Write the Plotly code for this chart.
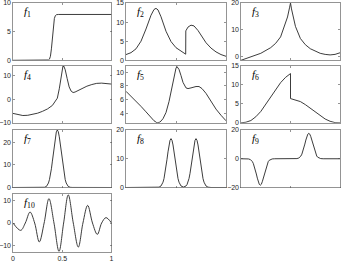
import plotly.graph_objects as go

# ---------------- data ----------------
f1_pts = [(0, 0), (0.34, 0), (0.36, 0.05), (0.37, 0.2), (0.38, 0.7), (0.39, 2.0), (0.40, 4.0),
          (0.41, 6.0), (0.42, 7.3), (0.43, 7.8), (0.44, 7.95), (0.46, 8.0), (1.0, 8.0)]
f2_pts = [(0, 1.5), (0.05, 2.0), (0.1, 3.0), (0.15, 5.0), (0.2, 8.2), (0.25, 11.8), (0.28, 13.3),
          (0.30, 13.6), (0.32, 13.2), (0.35, 11.4), (0.4, 7.6), (0.45, 4.9), (0.5, 3.3), (0.55, 2.3),
          (0.597, 1.6), (0.598, 7.7), (0.62, 8.7), (0.65, 9.2), (0.68, 9.0), (0.72, 7.8), (0.76, 6.1),
          (0.8, 4.6), (0.85, 3.2), (0.9, 2.2), (0.95, 1.5), (1.0, 1.05)]
f3_pts = [(0, -1.3), (0.1, 0.1), (0.2, 1.3), (0.3, 3.4), (0.35, 5.0), (0.4, 7.4), (0.45, 12.2),
          (0.47, 14.8), (0.49, 18.2), (0.5, 20.0), (0.51, 17.8), (0.53, 14.2), (0.55, 11.3), (0.6, 6.8),
          (0.65, 4.5), (0.7, 3.0), (0.75, 2.0), (0.8, 1.3), (0.85, 0.9), (0.9, 0.7), (0.95, 0.9), (1.0, 1.5)]
f4_pts = [(0, -6.0), (0.05, -6.6), (0.1, -6.9), (0.15, -6.8), (0.2, -6.4), (0.25, -5.9), (0.3, -5.1),
          (0.35, -4.1), (0.4, -2.6), (0.43, -1.0), (0.45, 0.5), (0.47, 4.5), (0.49, 10.0), (0.505, 13.6),
          (0.515, 14.2), (0.53, 12.6), (0.55, 8.8), (0.57, 5.3), (0.59, 3.5), (0.61, 2.9), (0.63, 3.1),
          (0.66, 3.8), (0.7, 4.7), (0.75, 5.6), (0.8, 6.3), (0.85, 6.8), (0.9, 6.9), (0.95, 6.8), (1.0, 6.5)]
f5_pts = [(0, 7.2), (0.05, 6.5), (0.1, 5.8), (0.15, 5.0), (0.2, 4.2), (0.25, 3.4), (0.28, 2.9),
          (0.31, 2.6), (0.34, 2.7), (0.37, 3.2), (0.4, 4.1), (0.43, 5.7), (0.46, 7.8), (0.48, 9.5),
          (0.5, 10.6), (0.51, 10.8), (0.53, 10.4), (0.55, 9.5), (0.57, 8.5), (0.6, 7.7), (0.62, 7.6),
          (0.65, 7.7), (0.7, 7.9), (0.73, 7.9), (0.76, 7.6), (0.8, 6.9), (0.85, 5.7), (0.9, 4.6),
          (0.95, 3.7), (1.0, 2.9)]
f6_pts = [(0, 0), (0.05, 0.15), (0.1, 0.6), (0.15, 1.6), (0.2, 3.0), (0.25, 4.9), (0.3, 6.9),
          (0.35, 8.9), (0.4, 10.6), (0.45, 12.0), (0.5, 13.0), (0.5001, 6.4), (0.55, 6.1), (0.6, 5.6),
          (0.65, 4.8), (0.7, 3.9), (0.75, 2.9), (0.8, 1.9), (0.85, 1.0), (0.9, 0.4), (0.95, 0.05), (1.0, 0)]
f7_pts = [(0, 0), (0.30, 0.02), (0.32, 0.1), (0.34, 0.5), (0.35, 1.1), (0.36, 2.0), (0.37, 3.5),
          (0.38, 5.5), (0.39, 8.3), (0.40, 11.7), (0.41, 15.5), (0.42, 19.3), (0.43, 22.5), (0.44, 24.7),
          (0.45, 25.5), (0.46, 24.7), (0.47, 22.5), (0.48, 19.3), (0.49, 15.5), (0.50, 11.7), (0.51, 8.3),
          (0.52, 5.5), (0.53, 3.5), (0.54, 2.0), (0.55, 1.1), (0.56, 0.5), (0.58, 0.1), (0.60, 0.02), (1.0, 0)]
f8_pts = [(0, 0), (0.30, 0), (0.33, 0.12), (0.35, 0.53), (0.36, 1.0), (0.37, 1.85), (0.38, 3.1),
          (0.39, 4.9), (0.40, 7.1), (0.41, 9.8), (0.42, 12.4), (0.43, 14.8), (0.44, 16.4), (0.45, 17.0),
          (0.46, 16.4), (0.47, 14.8), (0.48, 12.4), (0.49, 9.8), (0.50, 7.1), (0.51, 4.9), (0.52, 3.1),
          (0.53, 1.85), (0.54, 1.0), (0.55, 0.53), (0.575, 0.15), (0.60, 0.53), (0.61, 1.0), (0.62, 1.85),
          (0.63, 3.1), (0.64, 4.9), (0.65, 7.1), (0.66, 9.8), (0.67, 12.4), (0.68, 14.8), (0.69, 16.4),
          (0.70, 17.0), (0.71, 16.4), (0.72, 14.8), (0.73, 12.4), (0.74, 9.8), (0.75, 7.1), (0.76, 4.9),
          (0.77, 3.1), (0.78, 1.85), (0.79, 1.0), (0.80, 0.53), (0.82, 0.12), (0.85, 0), (1.0, 0)]
f9_pts = [(0, 0), (0.05, 0), (0.075, -0.13), (0.095, -0.57), (0.105, -1.1), (0.115, -2.0), (0.125, -3.4),
          (0.135, -5.3), (0.145, -7.7), (0.155, -10.6), (0.165, -13.5), (0.175, -16.0), (0.185, -17.8),
          (0.195, -18.4), (0.205, -17.8), (0.215, -16.0), (0.225, -13.5), (0.235, -10.6), (0.245, -7.7),
          (0.255, -5.3), (0.265, -3.4), (0.275, -2.0), (0.285, -1.1), (0.295, -0.57), (0.315, -0.13),
          (0.34, 0), (0.54, 0), (0.565, 0.12), (0.585, 0.55), (0.595, 1.06), (0.605, 1.9), (0.615, 3.2),
          (0.625, 5.1), (0.635, 7.4), (0.645, 10.2), (0.655, 13.0), (0.665, 15.4), (0.675, 17.1),
          (0.685, 17.7), (0.695, 17.1), (0.705, 15.4), (0.715, 13.0), (0.725, 10.2), (0.735, 7.4),
          (0.745, 5.1), (0.755, 3.2), (0.765, 1.9), (0.775, 1.06), (0.785, 0.55), (0.805, 0.12),
          (0.83, 0), (1.0, 0)]
f10_pts = [(0, 0), (0.078, -3.3), (0.125, 0), (0.173, 4.9), (0.22, 0), (0.267, -8.5), (0.316, 0),
           (0.365, 10.9), (0.416, 0), (0.467, -12.7), (0.514, 0), (0.561, 12.6), (0.612, 0),
           (0.663, -10.8), (0.71, 0), (0.758, 7.9), (0.807, 0), (0.856, -5.1), (0.9, 0), (0.944, 2.4),
           (1.0, 0)]

y_ranges = [[0, 10], [0, 15], [-1.3, 20], [-10, 14.2], [2.6, 10.9], [0, 15],
            [0, 25.5], [0, 20], [-20, 20], [-13, 13]]
y_ticks = [[0, 5, 10], [0, 5, 10, 15], [0, 10, 20], [-10, 0, 10], [4, 6, 8, 10], [0, 5, 10, 15],
           [0, 10, 20], [0, 10, 20], [-20, 0, 20], [-10, 0, 10]]
x_ticks = [0, 0.5, 1]
x_tick_text = ["0", "0.5", "1"]
all_pts = [f1_pts, f2_pts, f3_pts, f4_pts, f5_pts, f6_pts, f7_pts, f8_pts, f9_pts, f10_pts]
shapes = ["linear"] * 9 + ["spline"]

# ---------------- layout geometry (pixels) ----------------
W, H = 350, 263
col_px = [(13, 111.5), (126, 226), (241, 340)]
row_px = [(3, 60.3), (66, 122.8), (130, 187.5), (194, 252)]

LINE = "#262626"
FRAME = "#4d4d4d"
TICKF = dict(family="Liberation Sans, Arial", size=7, color="#262626")

fig = go.Figure()
annotations = []
for i, pts in enumerate(all_pts):
    n = i + 1
    r, c = divmod(i, 3)
    sfx = "" if n == 1 else str(n)
    xs = [p[0] for p in pts]
    ys = [p[1] for p in pts]
    fig.add_trace(go.Scatter(x=xs, y=ys, mode="lines", xaxis="x" + sfx, yaxis="y" + sfx,
                             line=dict(color=LINE, width=0.9, shape=shapes[i]),
                             showlegend=False, hoverinfo="skip"))
    x0, x1 = col_px[c]
    y0, y1 = row_px[r]
    fig.layout["xaxis" + sfx] = dict(
        domain=[x0 / W, x1 / W], anchor="y" + sfx, range=[0, 1], automargin=False,
        tickvals=x_ticks, ticktext=x_tick_text, showticklabels=(n == 10),
        ticks="inside", ticklen=2, tickwidth=0.6, tickcolor=FRAME, ticklabeloverflow="allow",
        showline=True, mirror="ticks", linecolor=FRAME, linewidth=0.6,
        showgrid=False, zeroline=False, tickfont=TICKF)
    fig.layout["yaxis" + sfx] = dict(
        domain=[1 - y1 / H, 1 - y0 / H], anchor="x" + sfx, range=y_ranges[i], automargin=False,
        tickvals=y_ticks[i], ticks="inside", ticklen=2, tickwidth=0.6, tickcolor=FRAME,
        ticklabeloverflow="allow",
        showline=True, mirror="ticks", linecolor=FRAME, linewidth=0.6,
        showgrid=False, zeroline=False, tickfont=TICKF)
    annotations.append(dict(
        text="<i>f</i><sub>%d</sub>" % n, xref="x%s domain" % sfx, yref="y%s domain" % sfx,
        x=0.09, y=1.0, xanchor="left", yanchor="top", showarrow=False,
        font=dict(family="Liberation Serif, Times New Roman", size=11, color="#000000")))

fig.update_layout(width=W, height=H, margin=dict(l=0, r=0, t=0, b=0),
                  paper_bgcolor="white", plot_bgcolor="white", annotations=annotations)
fig.write_html("out.html", config={"displayModeBar": False, "staticPlot": True},
               post_script="document.body.style.margin='0px';document.body.style.overflow='hidden';")
